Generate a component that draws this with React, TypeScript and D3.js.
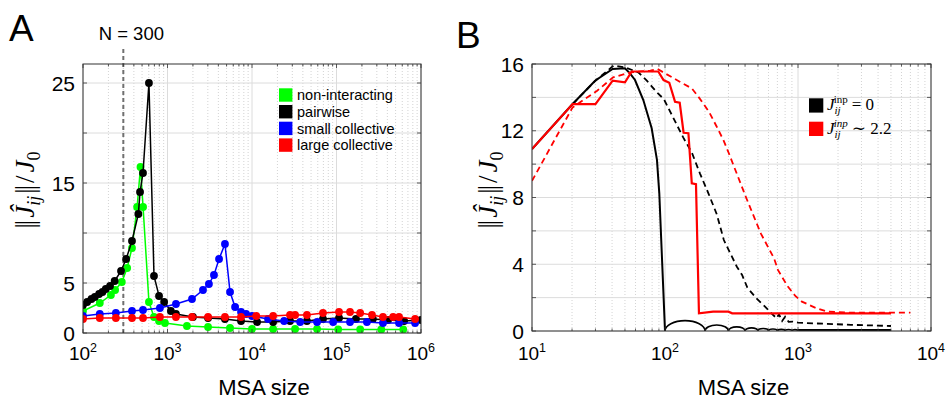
import React from "react";
import * as d3 from "d3";

type Pt = [number, number];

// ---- panel A : [MSA size, ||J_ij||/J0]
const nonInteracting: Pt[] = [
  [100, 2.2], [158, 3.0], [214, 3.8], [240, 4.3], [288, 5.1], [333, 6.5], [380, 8.5],
  [437, 12.6], [479, 16.6], [514, 12.6], [603, 3.1], [692, 1.6], [794, 1.2], [933, 1.0],
  [1698, 0.7], [3020, 0.6], [5495, 0.5], [10000, 0.4], [17783, 0.4], [32359, 0.4],
  [58884, 0.4], [104713, 0.35], [190546, 0.35], [338844, 0.35], [616595, 0.35],
];
const pairwise: Pt[] = [
  [100, 2.8], [112, 3.1], [126, 3.4], [138, 3.6], [155, 3.9], [170, 4.1], [186, 4.4],
  [209, 4.7], [237, 5.2], [282, 6.2], [324, 7.4], [380, 9.2], [452, 11.9], [473, 14.1],
  [513, 16.0], [603, 25.0], [692, 5.7], [794, 3.7], [912, 3.1], [1096, 2.2], [1259, 1.9],
  [2000, 1.6], [3020, 1.5], [4786, 1.4], [7413, 1.2], [11482, 1.1], [17783, 1.1],
  [28184, 1.2], [44668, 1.2], [69183, 1.4], [107152, 1.5], [169824, 1.4], [269153, 1.4],
  [407380, 1.3], [630957, 1.2], [1000000, 1.3],
];
const smallCollective: Pt[] = [
  [100, 1.7], [158, 1.9], [245, 2.0], [380, 2.2], [513, 2.3], [813, 2.5], [1259, 2.9],
  [1950, 3.4], [2630, 4.3], [3090, 4.9], [3548, 5.8], [4074, 7.4], [4786, 8.9], [5495, 4.1],
  [6310, 2.6], [7413, 2.1], [8511, 1.9], [10000, 1.7], [15488, 1.4], [23988, 1.2],
  [37154, 1.1], [58884, 1.1], [91201, 1.1], [144544, 1.1], [229087, 1.1], [354813, 1.0],
  [549541, 1.0], [851138, 1.0],
];
const largeCollective: Pt[] = [
  [100, 1.4], [158, 1.5], [245, 1.5], [380, 1.5], [513, 1.5], [813, 1.6], [1259, 1.6],
  [1950, 1.6], [3020, 1.6], [4786, 1.6], [7413, 1.6], [11220, 1.7], [17783, 1.7],
  [28184, 1.8], [32359, 1.8], [44668, 1.8], [69183, 2.0], [107152, 2.1], [144544, 2.1],
  [190546, 2.0], [263027, 1.8], [354813, 1.6], [467735, 1.6], [549541, 1.6], [851138, 1.4],
];
const seriesA = [
  { name: "non-interacting", color: "#00ff00", data: nonInteracting },
  { name: "pairwise", color: "#000000", data: pairwise },
  { name: "small collective", color: "#0000ff", data: smallCollective },
  { name: "large collective", color: "#ff0000", data: largeCollective },
];
const nMark = 300;
const yTicksA = [0, 5, 10, 15, 20, 25];
const yLabelsA = [0, 5, 15, 25];

// ---- panel B
const blackSolid: Pt[] = [
  [10, 10.9], [20.2, 13.6], [29.8, 15.0], [40.4, 15.7], [50, 15.74], [54.5, 15.44],
  [59.5, 15.04], [68.7, 13.84], [79.4, 12.15], [87, 10.25], [90.6, 8.25], [100, 0],
];
const archZeros = [100, 200, 300, 400, 500, 600, 700, 800, 900, 1000];
const archHeights = [0.62, 0.36, 0.25, 0.19, 0.15, 0.12, 0.1, 0.09, 0.08];
const blackSolidTail: Pt[] = [[1000, 0.06], [5000, 0.06]];
const blackDashed: Pt[] = [
  [20.2, 13.6], [30, 15.0], [41, 15.9], [50, 15.8], [63, 15.5], [73, 15.0], [87, 14.3],
  [98, 13.9], [115, 12.8], [137, 11.6], [159, 10.7], [183, 9.45], [212, 8.25], [245, 7.0],
  [277, 5.45], [347, 3.85], [380, 3.36], [416, 2.6], [486, 1.96], [565, 1.46], [632, 1.06],
  [690, 0.76], [720, 1.0], [760, 0.6], [800, 0.85], [850, 0.55], [912, 0.56], [1000, 0.5],
  [1400, 0.45], [2500, 0.37], [5000, 0.3],
];
const redSolid: Pt[] = [
  [10, 10.9], [20.2, 13.6], [30, 13.6], [40.4, 15.0], [50, 14.9], [56.2, 15.55], [89, 15.55],
  [97.5, 15.04], [107.7, 14.88], [119, 13.74], [129, 13.68], [138, 11.88], [150, 11.85],
  [159, 8.85], [171, 8.8], [180, 1.06], [230, 1.16], [300, 1.16], [320, 1.06], [5000, 1.06],
];
const redDashed: Pt[] = [
  [10, 9.0], [20.2, 13.4], [30.9, 14.4], [40.7, 15.2], [55, 15.5], [77.6, 15.6], [88, 15.7],
  [100, 15.44], [129, 14.94], [159, 14.54], [182, 13.94], [214, 13.14], [245, 12.24],
  [275, 11.44], [302, 10.65], [407, 8.0], [525, 5.85], [660, 4.36], [708, 3.65], [832, 2.7],
  [955, 2.1], [1070, 1.76], [1380, 1.36], [1660, 1.16], [2450, 1.1], [7000, 1.1],
];
const yTicksB = [0, 2, 4, 6, 8, 10, 12, 14, 16];
const yLabelsB = [0, 4, 8, 12, 16];

const FONT = "'Liberation Sans', Arial, sans-serif";
const MATH = "'Liberation Serif', 'DejaVu Serif', serif";

const isDecade = (v: number) => Math.abs(Math.log10(v) - Math.round(Math.log10(v))) < 1e-9;

const Grid = ({ xs, ys, yTicks }: any) => {
  const [x0, x1] = xs.range();
  const [y0, y1] = ys.range();
  const all: number[] = xs.ticks();
  return (
    <g>
      {all.filter((v) => !isDecade(v)).map((v, i) => (
        <line key={"m" + i} x1={xs(v)} x2={xs(v)} y1={y0} y2={y1} stroke="#c8c8c8" strokeWidth={0.8} strokeDasharray="1,2" />
      ))}
      {all.filter(isDecade).map((v, i) => (
        <line key={"M" + i} x1={xs(v)} x2={xs(v)} y1={y0} y2={y1} stroke="#dcdcdc" strokeWidth={1} />
      ))}
      {yTicks.map((v: number) => (
        <line key={"y" + v} x1={x0} x2={x1} y1={ys(v)} y2={ys(v)} stroke="#dcdcdc" strokeWidth={1} />
      ))}
    </g>
  );
};

const Frame = ({ xs, ys, yTicks, yLabels }: any) => {
  const [x0, x1] = xs.range();
  const [y0, y1] = ys.range();
  const all: number[] = xs.ticks();
  return (
    <g fontFamily={FONT} fill="#000">
      {all.map((v, i) => {
        const len = isDecade(v) ? 4 : 2.5;
        return (
          <g key={i} stroke="#333" strokeWidth={0.8}>
            <line x1={xs(v)} x2={xs(v)} y1={y0} y2={y0 - len} />
            <line x1={xs(v)} x2={xs(v)} y1={y1} y2={y1 + len} />
          </g>
        );
      })}
      {yTicks.map((v: number) => (
        <g key={v} stroke="#333" strokeWidth={0.8}>
          <line x1={x0} x2={x0 + 4} y1={ys(v)} y2={ys(v)} />
          <line x1={x1} x2={x1 - 4} y1={ys(v)} y2={ys(v)} />
        </g>
      ))}
      <rect x={x0} y={y1} width={x1 - x0} height={y0 - y1} fill="none" stroke="#333" strokeWidth={1} />
      {yLabels.map((v: number) => (
        <text key={v} x={x0 - 8} y={ys(v)} dy="0.36em" textAnchor="end" fontSize={21}>{v}</text>
      ))}
      {all.filter(isDecade).map((v) => (
        <text key={v} x={xs(v)} y={359.5} textAnchor="middle" fontSize={19}>
          <tspan>10</tspan>
          <tspan fontSize={12.5} dy={-8}>{Math.round(Math.log10(v))}</tspan>
        </text>
      ))}
      <text x={(x0 + x1) / 2 + 12} y={395} textAnchor="middle" fontSize={22}>MSA size</text>
    </g>
  );
};

const YLabel = ({ x, y }: { x: number; y: number }) => (
  <text transform={`translate(${x},${y}) rotate(-90)`} textAnchor="middle" fontFamily={MATH} fontSize={27}>
    <tspan letterSpacing={-2}>||</tspan>
    <tspan fontStyle="italic" dx={4}>Ĵ</tspan>
    <tspan fontStyle="italic" fontSize={18} dy={6}>ij</tspan>
    <tspan dy={-6} dx={2} letterSpacing={-2}>||</tspan>
    <tspan dx={4}>/</tspan>
    <tspan fontStyle="italic" dx={3}>J</tspan>
    <tspan fontSize={18} dy={6}>0</tspan>
  </text>
);

export default function App() {
  // panel A scales
  const xA = d3.scaleLog().domain([100, 1e6]).range([83, 421]);
  const yA = d3.scaleLinear().domain([0, 26.9]).range([333, 64]);
  const lineA = d3.line<Pt>().x((d) => xA(d[0])).y((d) => yA(d[1]));

  // panel B scales
  const xB = d3.scaleLog().domain([10, 1e4]).range([532, 931]);
  const yB = d3.scaleLinear().domain([0, 16]).range([331, 64]);
  const lineB = d3.line<Pt>().x((d) => xB(d[0])).y((d) => yB(d[1]));

  const arches = archHeights.map((h, i) => {
    const xa = xB(archZeros[i]);
    const xb = xB(archZeros[i + 1]);
    const ry = yB(0) - yB(h);
    return `M${xa},${yB(0)}A${(xb - xa) / 2},${ry} 0 0 1 ${xb},${yB(0)}`;
  });

  return (
    <svg width={948} height={401} style={{ position: "absolute", left: 0, top: 0, background: "#fff" }}>
      <defs>
        <clipPath id="clipA"><rect x={83} y={64} width={338} height={269} /></clipPath>
        <clipPath id="clipB"><rect x={532} y={64} width={399} height={267} /></clipPath>
      </defs>

      {/* ---------------- panel A ---------------- */}
      <text x={9} y={41} fontFamily={FONT} fontSize={37}>A</text>
      <rect x={83} y={64} width={338} height={269} fill="#fff" />
      <Grid xs={xA} ys={yA} yTicks={yTicksA} />
      <line x1={xA(nMark)} x2={xA(nMark)} y1={49} y2={333} stroke="#707070" strokeWidth={2} strokeDasharray="4,3" />
      <text x={xA(nMark) + 8} y={39.5} textAnchor="middle" fontFamily={FONT} fontSize={18.5}>N = 300</text>
      <g clipPath="url(#clipA)">
        {seriesA.map((s) => (
          <g key={s.name}>
            <path d={lineA(s.data) || ""} fill="none" stroke={s.color} strokeWidth={1.5} />
            {s.data.map((d, i) => (
              <circle key={i} cx={xA(d[0])} cy={yA(d[1])} r={3.9} fill={s.color} />
            ))}
          </g>
        ))}
      </g>
      <Frame xs={xA} ys={yA} yTicks={yTicksA} yLabels={yLabelsA} />
      <g fontFamily={FONT} fontSize={14.5}>
        {seriesA.map((s, i) => (
          <g key={s.name} transform={`translate(279,${88.3 + i * 16.7})`}>
            <rect width={13.4} height={13.4} fill={s.color} />
            <text x={18} y={11.8}>{s.name}</text>
          </g>
        ))}
      </g>
      <YLabel x={34} y={190} />

      {/* ---------------- panel B ---------------- */}
      <text x={456} y={48} fontFamily={FONT} fontSize={37}>B</text>
      <rect x={532} y={64} width={399} height={267} fill="#fff" />
      <Grid xs={xB} ys={yB} yTicks={yTicksB} />
      <g clipPath="url(#clipB)" fill="none">
        <path d={lineB(blackDashed) || ""} stroke="#000" strokeWidth={1.8} strokeDasharray="6,4" />
        <path d={lineB(blackSolid) || ""} stroke="#000" strokeWidth={2} />
        {arches.map((d, i) => (
          <path key={i} d={d} stroke="#000" strokeWidth={1.6} />
        ))}
        <path d={lineB(blackSolidTail) || ""} stroke="#000" strokeWidth={1.8} />
        <path d={lineB(redDashed) || ""} stroke="#ff0000" strokeWidth={1.8} strokeDasharray="6,4" />
        <path d={lineB(redSolid) || ""} stroke="#ff0000" strokeWidth={2.2} />
      </g>
      <Frame xs={xB} ys={yB} yTicks={yTicksB} yLabels={yLabelsB} />
      <g fontFamily={MATH}>
        <rect x={809} y={98.3} width={14.3} height={14.3} fill="#000" />
        <text x={827} y={110} fontSize={17}>
          <tspan fontStyle="italic">J</tspan>
          <tspan fontSize={11} fontStyle="italic" dy={4}>ij</tspan>
          <tspan fontSize={11} dx={-7} dy={-11}>inp</tspan>
          <tspan dy={7} dx={4}>= 0</tspan>
        </text>
        <rect x={809} y={121.7} width={14.3} height={14.3} fill="#ff0000" />
        <text x={827} y={133.5} fontSize={17}>
          <tspan fontStyle="italic">J</tspan>
          <tspan fontSize={11} fontStyle="italic" dy={4}>ij</tspan>
          <tspan fontSize={11} fontStyle="italic" dx={-7} dy={-11}>inp</tspan>
          <tspan dy={7} dx={4}>∼ 2.2</tspan>
        </text>
      </g>
      <YLabel x={497} y={190} />
    </svg>
  );
}
